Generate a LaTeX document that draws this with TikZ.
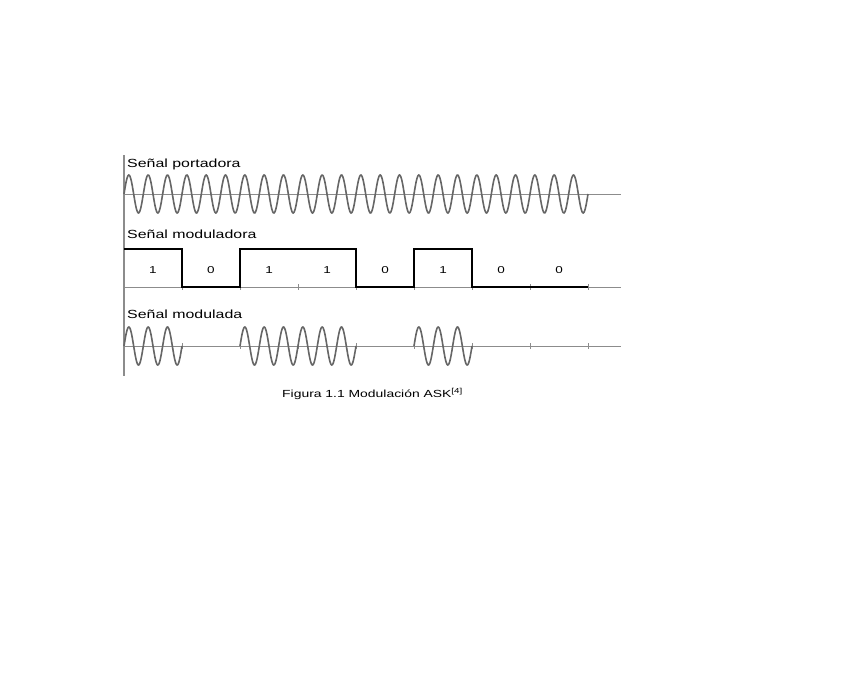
\documentclass[tikz,border=0pt]{standalone}
\usepackage{fontspec}
\setmainfont{Liberation Sans}
\newfontfamily\widesans[FakeStretch=1.35]{Liberation Sans}
\colorlet{wavegray}{black!60}
\colorlet{axisgray}{black!45}
\tikzset{
  axisline/.style={axisgray, line width=1pt},
  wave/.style={wavegray, line width=1.6pt},
  pulse/.style={black, line width=1.8pt},
  title/.style={anchor=base west, inner sep=0pt, font=\widesans\fontsize{11.8}{14}\selectfont},
  bit/.style={inner sep=0pt, font=\widesans\fontsize{10}{12}\selectfont},
}
\begin{document}
\begin{tikzpicture}[x=1pt, y=-1pt]
    \useasboundingbox (0,0) rectangle (866,697);

    % vertical axis
    \draw[axisline, line width=1.5pt] (124,155) -- (124,376);

    % Carrier signal
    \node[title] (portadora) at (127,167) {Señal portadora};
    \draw[axisline] (124,194) -- (621,194);
    \draw[wave] plot[domain=124:588, samples=700, smooth] (\x, {194 - 19*sin((\x-124)*18.6207)});

    % Modulating signal
    \node[title] (moduladora) at (127,238) {Señal moduladora};
    \draw[axisline] (124,287) -- (621,287);
    \foreach \i in {1,...,8}
        \draw[axisline] (124+58*\i,284) -- ++(0,6);
    \draw[pulse] (124,249) -| (182,287) -| (240,249) -| (356,287) -| (414,249) -| (472,287) -- (588,287);
    \foreach \v [count=\i from 0] in {1,0,1,1,0,1,0,0}
        \node[bit] (bit\i) at (153+58*\i,270.5) {\v};

    % Modulated signal
    \node[title] (modulada) at (127,318) {Señal modulada};
    \draw[axisline] (124,346) -- (621,346);
    \foreach \i in {1,...,8}
        \draw[axisline] (124+58*\i,343) -- ++(0,6);
    \foreach \b [evaluate=\b as \xa using 124+58*\b, evaluate=\b as \xb using 182+58*\b] in {0,2,3,5}
        \draw[wave] plot[domain=\xa:\xb, samples=120, smooth] (\x, {346 - 19*sin((\x-\xa)*18.6207)});

    % caption
    \node[anchor=base west, inner sep=0pt, font=\widesans\fontsize{10.3}{12}\selectfont] (caption) at (282,397) {Figura 1.1 Modulación ASK\textsuperscript{[4]}};
\end{tikzpicture}
\end{document}
